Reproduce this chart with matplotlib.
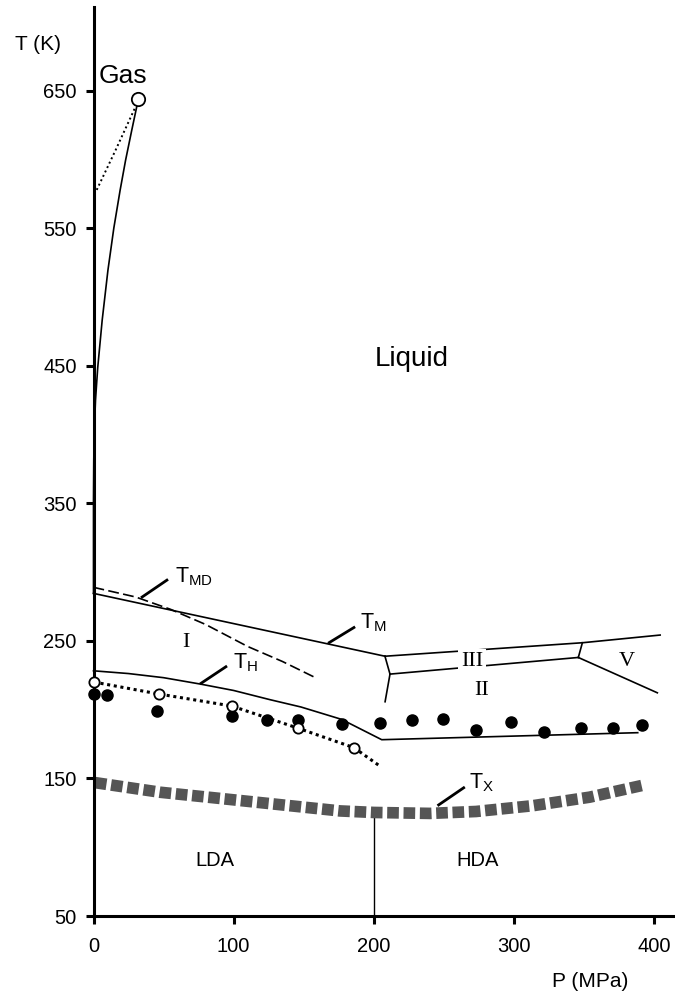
import numpy as np
import matplotlib
matplotlib.use('Agg')
import matplotlib.pyplot as plt

plt.rcParams['font.family'] = ['Liberation Sans', 'DejaVu Sans']
SANS = ['Liberation Sans', 'DejaVu Sans']
SERIF = ['Liberation Serif', 'DejaVu Serif']

# phase boundaries (P in MPa, T in K)
lg_P = [0, 0, 0.2, 0.57, 1.43, 3.0, 6.2, 10.3, 14.5, 19.0, 22.9, 27.3, 32]
lg_T = [284.6, 352, 381.5, 403.3, 425.1, 448.6, 483.3, 519.6, 550.2, 577.8,
        599.6, 621.4, 644]
spin_P = [2.3, 15.8, 30]
spin_T = [578, 607, 638.5]
crit_P, crit_T = 32, 644

tm_P = [0, 208]
tm_T = [284.6, 238.9]
tmd_P = [0, 30, 55, 80, 110, 135, 157]
tmd_T = [289, 282, 273, 262, 246, 235, 224]

liq_III_P = [208, 348.9, 404.4]
liq_III_T = [238.9, 248.7, 254.3]
I_III_P = [208, 211.6]
I_III_T = [238.9, 225.9]
I_II_P = [211.6, 208.1]
I_II_T = [225.9, 205.8]
II_III_P = [211.6, 346]
II_III_T = [225.9, 238]
III_V_P = [348.9, 346]
III_V_T = [248.7, 238]
II_V_P = [346, 402.4]
II_V_T = [238, 212.3]

th_P = [0, 25, 50, 76, 100, 126, 148, 177, 205.7, 388.4]
th_T = [228.3, 226.3, 223.3, 218.7, 214, 207.3, 202, 193, 178.2, 183.3]

# open circles and dotted line
open_P = [0.3, 46.8, 98.6, 146.2, 185.9]
open_T = [220.1, 211.4, 202.7, 186.5, 172.4]
dot_P = open_P + [203.3]
dot_T = open_T + [159.8]

# filled circles
fill_P = [0, 9.4, 45.5, 98.6, 123.6, 145.8, 177.2, 204.5, 227.1, 249.3,
          273.0, 298.0, 321.8, 348.0, 371.0, 391.3]
fill_T = [211.4, 211.0, 199.0, 195.4, 192.5, 192.5, 189.4, 190.5, 192.5, 193.0,
          185.2, 190.8, 183.6, 186.5, 186.9, 188.9]

tx_P = [1, 47.5, 95, 176, 200, 240, 273, 313.5, 354, 394]
tx_T = [147, 140, 135, 126.4, 125.3, 124.6, 126, 130.2, 136.4, 145.5]

lda_hda_P = [200, 200]
lda_hda_T = [50, 125]

fig = plt.figure(figsize=(6.75, 9.92), dpi=100)
ax = fig.add_axes([93.5 / 675, 1 - 916 / 992, 1 - 93.5 / 675, 909 / 992])
ax.set_xlim(0, 415)
ax.set_ylim(50, 711)

for s in ['top', 'right']:
    ax.spines[s].set_visible(False)
for s in ['left', 'bottom']:
    ax.spines[s].set_linewidth(2.2)
ax.set_xticks([0, 100, 200, 300, 400])
ax.set_yticks([50, 150, 250, 350, 450, 550, 650])
ax.tick_params(axis='both', direction='out', length=6, width=2.2, labelsize=14.5)
ax.tick_params(axis='x', pad=9)
ax.tick_params(axis='y', pad=6)

lw = 1.2
kw = dict(color='black', lw=lw, clip_on=False)
ax.plot(lg_P, lg_T, **kw)
ax.plot(spin_P, spin_T, color='black', lw=1.4, ls=(0, (1, 1.5)), clip_on=False)
ax.plot(tm_P, tm_T, **kw)
ax.plot(tmd_P, tmd_T, color='black', lw=lw, ls=(0, (6.5, 2.6)), clip_on=False)
for p, t in [(liq_III_P, liq_III_T), (I_III_P, I_III_T), (I_II_P, I_II_T),
             (II_III_P, II_III_T), (III_V_P, III_V_T), (II_V_P, II_V_T)]:
    ax.plot(p, t, **kw)
ax.plot(th_P, th_T, **kw)
ax.plot(dot_P, dot_T, color='black', lw=2.2, ls=(0, (1, 1.2)), clip_on=False)
ax.plot(lda_hda_P, lda_hda_T, color='black', lw=1.0, clip_on=False)

# T_X crossover, thick grey squares
ax.plot(tx_P, tx_T, color='#555555', lw=8.4, ls=(0, (1.0, 0.4)),
        dash_capstyle='butt', clip_on=False)

ax.plot(fill_P, fill_T, 'o', color='black', ms=8, clip_on=False, zorder=4)
ax.plot(open_P, open_T, 'o', mfc='white', mec='black', mew=1.3, ms=7.4,
        clip_on=False, zorder=5)
ax.plot([crit_P], [crit_T], 'o', mfc='white', mec='black', mew=1.3, ms=9.6,
        clip_on=False, zorder=5)

# label leader lines
leaders = [([33.9, 53.2], [281.4, 294.8]),
           ([167.4, 186.7], [248.3, 260.3]),
           ([76, 95.3], [218.7, 231.8]),
           ([245.5, 265], [130.2, 143.8])]
for p, t in leaders:
    ax.plot(p, t, color='black', lw=2.0, solid_capstyle='butt', clip_on=False)

lab = dict(family=SANS, fontsize=15.5, ha='left', va='baseline')
ax.text(58.2, 292.3, r'T$_\mathregular{MD}$', **lab)
ax.text(190.2, 259.2, r'T$_\mathregular{M}$', **lab)
ax.text(99.8, 230, r'T$_\mathregular{H}$', **lab)
ax.text(268, 143, r'T$_\mathregular{X}$', **lab)

ax.text(3.9, 655.4, 'Gas', fontsize=19, ha='left', va='baseline')
ax.text(227.3, 450, 'Liquid', fontsize=20, ha='center', va='baseline')
ax.text(86.7, 86.4, 'LDA', fontsize=14.5, ha='center', va='baseline')
ax.text(274.4, 86.4, 'HDA', fontsize=14.5, ha='center', va='baseline')

rom = dict(family=SERIF, fontsize=16, ha='center', va='baseline')
ax.text(66, 245.8, 'I', **rom)
ax.text(277, 210.7, 'II', **rom)
ax.text(380.6, 231.7, 'V', **rom)
ax.text(270.2, 231.7, 'III', zorder=6,
        bbox=dict(facecolor='white', edgecolor='none', pad=2), **rom)

ax.text(-56, 679.6, 'T (K)', fontsize=15, ha='left', va='baseline', clip_on=False)
ax.text(327.3, -1.4, 'P (MPa)', fontsize=15, ha='left', va='baseline',
        clip_on=False)

fig.savefig('out.png', dpi=100)
